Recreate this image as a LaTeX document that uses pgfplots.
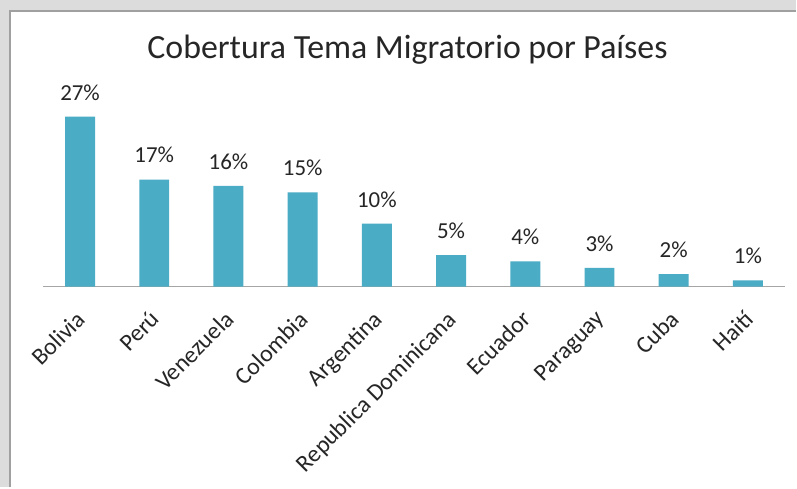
\documentclass[border=0pt]{standalone}
\usepackage{pgfplots}
\pgfplotsset{compat=1.18}
\usepackage{fontspec}
\setmainfont{Carlito}
\definecolor{barc}{HTML}{4BACC6}
\definecolor{outerc}{HTML}{DCDCDC}
\definecolor{framec}{HTML}{A0A0A0}
\definecolor{axisc}{HTML}{A6A6A6}
\begin{document}
\begin{tikzpicture}[x=1bp,y=1bp]
\fill[outerc] (0,0) rectangle (797,488);
\fill[white] (9,0) rectangle (797,478);
\draw[framec, line width=2bp] (10,0) -- (10,477) -- (797,477);
\useasboundingbox (0,0) rectangle (797,488);
\node[font=\fontsize{34}{40}\selectfont, text=black!85] at (408,438) {Cobertura Tema Migratorio por Países};
\begin{axis}[
  at={(43bp,201bp)}, anchor=south west,
  width=743bp, height=189bp, scale only axis,
  xmin=-0.5, xmax=9.5, ymin=0, ymax=30,
  enlargelimits=false, clip=false,
  /pgf/number format/assume math mode=true,
  ybar, bar width=30bp, bar shift=0pt,
  axis y line=none, axis x line*=bottom,
  x axis line style={axisc, line width=1.2bp, -},
  xtick={0,...,9},
  xticklabels={Bolivia,Perú,Venezuela,Colombia,Argentina,Republica Dominicana,Ecuador,Paraguay,Cuba,Haití},
  major tick length=0pt,
  x tick label style={xshift=-5bp, yshift=-21bp, rotate=45, anchor=north east, font=\fontsize{24}{28}\selectfont, text=black!85, inner sep=1bp},
  nodes near coords={\pgfmathprintnumber{\pgfplotspointmeta}\%},
  every node near coord/.append style={font=\fontsize{23}{27}\selectfont, text=black!85, yshift=13bp},
]
\addplot[fill=barc, draw=none] coordinates {(0,27) (1,17) (2,16) (3,15) (4,10) (5,5) (6,4) (7,3) (8,2) (9,1)};
\end{axis}
\end{tikzpicture}
\end{document}
